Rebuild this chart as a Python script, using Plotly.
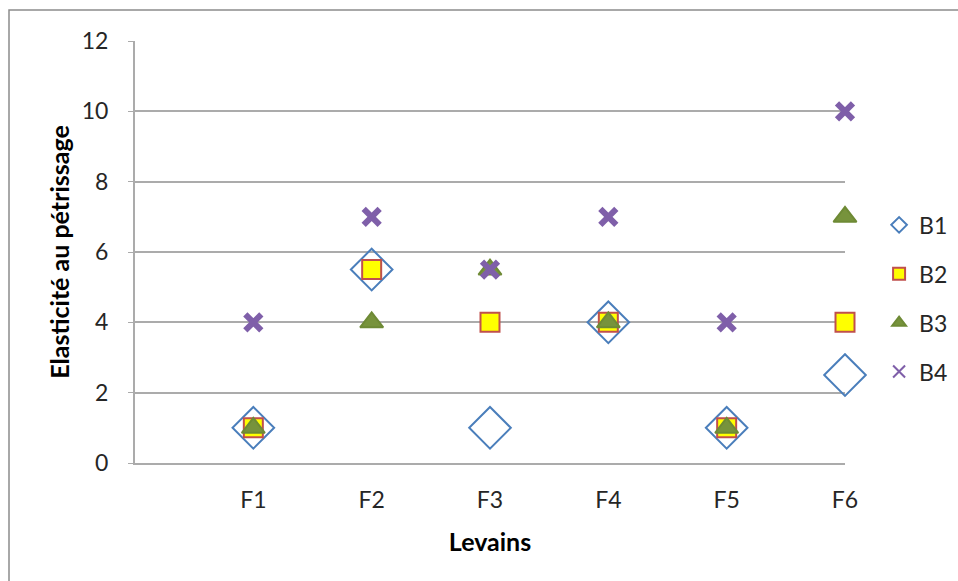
import plotly.graph_objects as go

# Levains (sourdough starters) on the category axis
levains = ["F1", "F2", "F3", "F4", "F5", "F6"]
positions = [1, 2, 3, 4, 5, 6]

# Elasticity scores per batch
b1 = [1, 5.5, 1, 4, 1, 2.5]
b2 = [1, 5.5, 4, 4, 1, 4]
b3 = [1, 4, 5.5, 4, 1, 7]
b4 = [4, 7, 5.5, 7, 4, 10]

y_ticks = [0, 2, 4, 6, 8, 10, 12]

FONT = "Lato, Carlito, Calibri, sans-serif"
GRID = "#ABABAB"
TEXT = "#262626"

fig = go.Figure()

fig.add_trace(go.Scatter(
    x=positions, y=b1, name="B1", mode="markers", legendgroup="b1",
    cliponaxis=False,
    marker=dict(symbol="diamond-open", size=32, color="#4A7EBB",
                line=dict(color="#4A7EBB", width=2)),
))
fig.add_trace(go.Scatter(
    x=positions, y=b2, name="B2", mode="markers", legendgroup="b2",
    cliponaxis=False,
    marker=dict(symbol="square", size=19, color="#FFFF00",
                line=dict(color="#C0504D", width=2)),
))
fig.add_trace(go.Scatter(
    x=positions, y=b3, name="B3", mode="markers", legendgroup="b3",
    cliponaxis=False,
    marker=dict(symbol="triangle-up", size=20, color="#77933C",
                line=dict(color="#6E8A35", width=2)),
))
fig.add_trace(go.Scatter(
    x=positions, y=b4, name="B4", mode="markers", legendgroup="b4",
    cliponaxis=False,
    marker=dict(symbol="x-thin", size=16, color="#7F5FA9",
                line=dict(color="#7F5FA9", width=6)),
))

fig.update_layout(
    width=958, height=581,
    margin=dict(l=135, r=113, t=41, b=118, autoexpand=False),
    paper_bgcolor="white", plot_bgcolor="white",
    font=dict(family=FONT, size=23, color=TEXT),
    showlegend=True,
    legend=dict(
        x=1.048, y=0.39, xanchor="left", yanchor="middle",
        font=dict(family=FONT, size=23, color=TEXT),
        itemsizing="constant", tracegroupgap=16,
        traceorder="grouped", bgcolor="rgba(0,0,0,0)",
    ),
    xaxis=dict(
        range=[0, 6], tickmode="array", tickvals=positions, ticktext=levains,
        tickfont=dict(family=FONT, size=23, color=TEXT),
        showgrid=False, zeroline=False, showline=True, linecolor=GRID,
        linewidth=2, ticks="", ticklabelstandoff=15,
        title=dict(text="<b>Levains</b>",
                   font=dict(family=FONT, size=25, color="#000000"),
                   standoff=22),
    ),
    yaxis=dict(
        range=[0, 12], tickmode="array", tickvals=y_ticks,
        tickfont=dict(family=FONT, size=23, color=TEXT),
        showgrid=True, gridcolor=GRID, gridwidth=2, zeroline=False,
        showline=True, linecolor=GRID, linewidth=2,
        ticks="outside", ticklen=5, tickcolor=GRID, ticklabelstandoff=15,
        title=dict(text="<b>Elasticité au pétrissage</b>",
                   font=dict(family=FONT, size=25, color="#000000"),
                   standoff=5),
    ),
    shapes=[dict(
        type="rect", xref="paper", yref="paper",
        x0=(9 - 135) / 710, x1=(965 - 135) / 710,
        y0=(463 - 590) / 422, y1=(463 - 10) / 422,
        line=dict(color="#8C8C8C", width=1.5), fillcolor="rgba(0,0,0,0)",
        layer="below",
    )],
)

fig.write_html("out.html")
